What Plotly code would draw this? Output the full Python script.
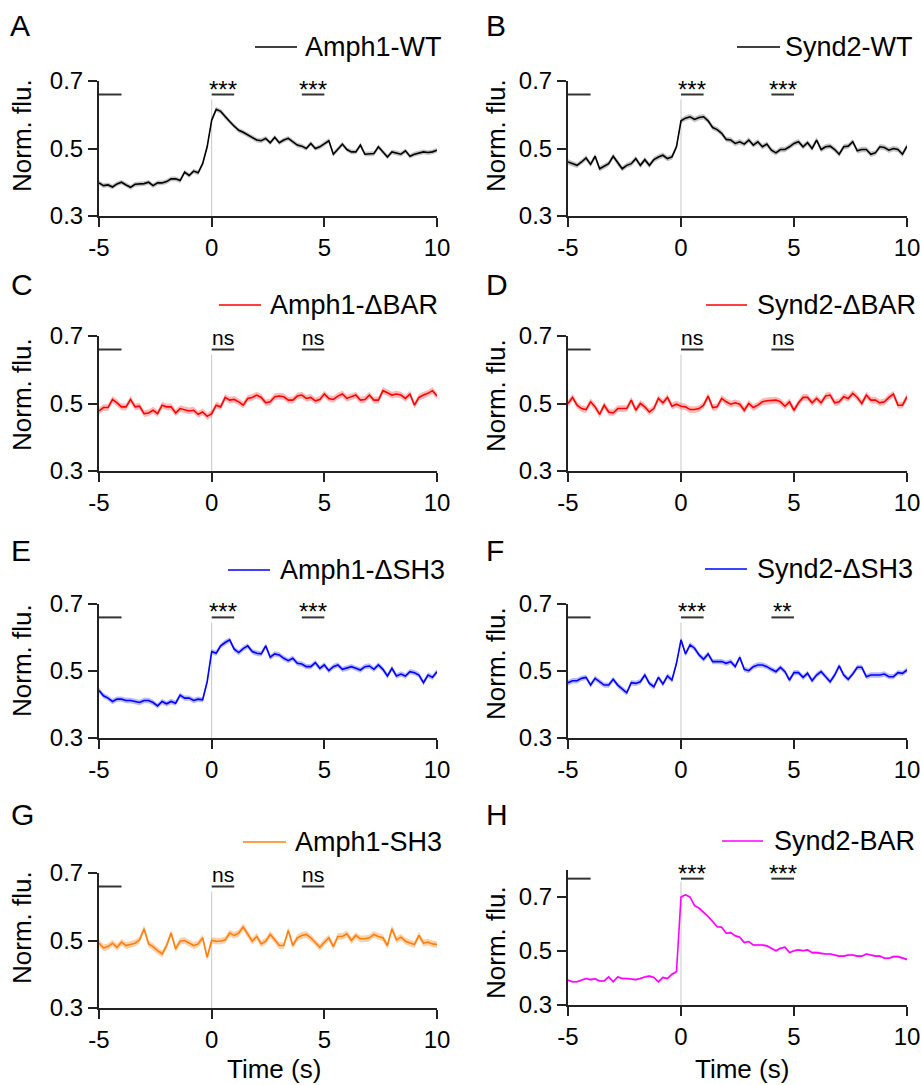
import numpy as np
import plotly.graph_objects as go

# time axis (s), sampled every 0.2 s
time_s = np.round(np.arange(-5, 10.001, 0.2), 1)

panel_letters = ['A', 'B', 'C', 'D', 'E', 'F', 'G', 'H']
construct_names = ['Amph1-WT', 'Synd2-WT', 'Amph1-ΔBAR', 'Synd2-ΔBAR',
                   'Amph1-ΔSH3', 'Synd2-ΔSH3', 'Amph1-SH3', 'Synd2-BAR']

# mean normalized fluorescence
amph1_wt = [0.398, 0.390, 0.392, 0.386, 0.395, 0.400, 0.392, 0.385, 0.394, 0.395,
            0.396, 0.400, 0.390, 0.398, 0.398, 0.402, 0.410, 0.410, 0.405, 0.430,
            0.420, 0.433, 0.428, 0.455, 0.505, 0.584, 0.616, 0.610, 0.594, 0.580,
            0.566, 0.554, 0.548, 0.540, 0.533, 0.525, 0.523, 0.530, 0.517, 0.533,
            0.517, 0.525, 0.530, 0.520, 0.510, 0.507, 0.500, 0.515, 0.500, 0.505,
            0.513, 0.523, 0.483, 0.497, 0.513, 0.497, 0.490, 0.490, 0.510, 0.483,
            0.485, 0.485, 0.505, 0.490, 0.475, 0.490, 0.487, 0.483, 0.493, 0.477,
            0.483, 0.487, 0.490, 0.488, 0.490, 0.495]
synd2_wt = [0.460, 0.455, 0.450, 0.460, 0.472, 0.453, 0.477, 0.440, 0.448, 0.455,
            0.477, 0.457, 0.440, 0.450, 0.455, 0.470, 0.450, 0.467, 0.450, 0.467,
            0.475, 0.480, 0.470, 0.475, 0.505, 0.582, 0.590, 0.594, 0.586, 0.592,
            0.594, 0.582, 0.562, 0.556, 0.545, 0.527, 0.525, 0.515, 0.520, 0.513,
            0.525, 0.510, 0.520, 0.505, 0.513, 0.495, 0.487, 0.497, 0.497, 0.505,
            0.515, 0.520, 0.505, 0.517, 0.500, 0.525, 0.497, 0.505, 0.507, 0.497,
            0.483, 0.505, 0.507, 0.520, 0.493, 0.497, 0.497, 0.483, 0.487, 0.505,
            0.503, 0.495, 0.500, 0.497, 0.483, 0.507]
amph1_dbar = [0.478, 0.488, 0.488, 0.512, 0.502, 0.490, 0.490, 0.512, 0.490, 0.492,
              0.470, 0.472, 0.480, 0.470, 0.495, 0.490, 0.490, 0.472, 0.485, 0.482,
              0.478, 0.480, 0.468, 0.475, 0.462, 0.470, 0.495, 0.490, 0.518, 0.510,
              0.512, 0.505, 0.495, 0.515, 0.518, 0.525, 0.518, 0.502, 0.505, 0.520,
              0.522, 0.520, 0.510, 0.510, 0.522, 0.525, 0.515, 0.518, 0.508, 0.512,
              0.528, 0.515, 0.512, 0.522, 0.528, 0.515, 0.520, 0.525, 0.510, 0.512,
              0.525, 0.510, 0.510, 0.538, 0.532, 0.525, 0.528, 0.525, 0.515, 0.528,
              0.495, 0.518, 0.525, 0.530, 0.538, 0.522]
synd2_dbar = [0.500, 0.518, 0.495, 0.485, 0.482, 0.505, 0.490, 0.468, 0.495, 0.475,
              0.472, 0.485, 0.485, 0.485, 0.510, 0.480, 0.500, 0.490, 0.475, 0.485,
              0.515, 0.502, 0.518, 0.492, 0.498, 0.492, 0.490, 0.482, 0.482, 0.485,
              0.495, 0.522, 0.488, 0.490, 0.515, 0.505, 0.498, 0.502, 0.498, 0.480,
              0.500, 0.488, 0.495, 0.505, 0.508, 0.508, 0.510, 0.505, 0.492, 0.505,
              0.480, 0.502, 0.518, 0.518, 0.502, 0.515, 0.502, 0.522, 0.525, 0.502,
              0.505, 0.520, 0.515, 0.530, 0.518, 0.500, 0.525, 0.510, 0.510, 0.502,
              0.505, 0.518, 0.528, 0.495, 0.495, 0.520]
amph1_dsh3 = [0.442, 0.426, 0.419, 0.409, 0.416, 0.416, 0.412, 0.412, 0.409, 0.406,
              0.412, 0.412, 0.406, 0.396, 0.409, 0.402, 0.409, 0.404, 0.428, 0.419,
              0.419, 0.412, 0.416, 0.414, 0.468, 0.558, 0.553, 0.575, 0.585, 0.593,
              0.565, 0.555, 0.567, 0.575, 0.558, 0.553, 0.551, 0.575, 0.541, 0.551,
              0.548, 0.538, 0.531, 0.538, 0.523, 0.521, 0.513, 0.513, 0.525, 0.508,
              0.518, 0.501, 0.513, 0.518, 0.505, 0.508, 0.513, 0.508, 0.503, 0.513,
              0.515, 0.505, 0.518, 0.505, 0.485, 0.508, 0.485, 0.491, 0.485, 0.498,
              0.495, 0.488, 0.465, 0.488, 0.481, 0.498]
synd2_dsh3 = [0.465, 0.471, 0.471, 0.478, 0.481, 0.458, 0.478, 0.468, 0.458, 0.458,
              0.475, 0.458, 0.445, 0.435, 0.465, 0.463, 0.468, 0.488, 0.463, 0.453,
              0.481, 0.461, 0.485, 0.473, 0.523, 0.593, 0.551, 0.578, 0.568, 0.548,
              0.535, 0.551, 0.528, 0.528, 0.528, 0.523, 0.528, 0.513, 0.541, 0.505,
              0.501, 0.513, 0.518, 0.518, 0.513, 0.505, 0.498, 0.511, 0.498, 0.473,
              0.495, 0.495, 0.481, 0.493, 0.471, 0.488, 0.498, 0.483, 0.468, 0.488,
              0.515, 0.488, 0.475, 0.491, 0.511, 0.511, 0.483, 0.488, 0.488, 0.488,
              0.491, 0.483, 0.483, 0.495, 0.493, 0.503]
amph1_sh3 = [0.492, 0.478, 0.482, 0.492, 0.480, 0.495, 0.485, 0.488, 0.492, 0.502,
             0.535, 0.490, 0.482, 0.470, 0.460, 0.485, 0.522, 0.475, 0.498, 0.500,
             0.492, 0.485, 0.490, 0.508, 0.450, 0.500, 0.498, 0.498, 0.502, 0.522,
             0.515, 0.522, 0.540, 0.518, 0.498, 0.512, 0.490, 0.498, 0.518, 0.502,
             0.485, 0.485, 0.530, 0.485, 0.508, 0.515, 0.518, 0.508, 0.495, 0.480,
             0.495, 0.508, 0.482, 0.512, 0.512, 0.520, 0.500, 0.515, 0.505, 0.505,
             0.508, 0.518, 0.512, 0.508, 0.485, 0.535, 0.502, 0.510, 0.498, 0.492,
             0.488, 0.515, 0.492, 0.495, 0.490, 0.488]
synd2_bar = [0.392, 0.386, 0.386, 0.392, 0.398, 0.394, 0.397, 0.389, 0.389, 0.404,
             0.386, 0.404, 0.398, 0.398, 0.397, 0.394, 0.398, 0.404, 0.407, 0.402,
             0.386, 0.402, 0.398, 0.414, 0.423, 0.700, 0.708, 0.700, 0.668, 0.659,
             0.643, 0.628, 0.609, 0.590, 0.588, 0.566, 0.568, 0.556, 0.551, 0.531,
             0.535, 0.522, 0.522, 0.522, 0.519, 0.510, 0.501, 0.510, 0.514, 0.494,
             0.501, 0.504, 0.501, 0.504, 0.494, 0.494, 0.491, 0.489, 0.489, 0.485,
             0.481, 0.481, 0.485, 0.485, 0.481, 0.481, 0.489, 0.485, 0.481, 0.481,
             0.473, 0.473, 0.479, 0.479, 0.473, 0.469]

# approximate SEM (half width of the shaded band) per panel
sem_values = [0.007, 0.008, 0.010, 0.010, 0.008, 0.008, 0.010, 0.004]

# significance labels for the 0-1 s and 4-5 s windows
sig_first = ['***', '***', 'ns', 'ns', '***', '***', 'ns', '***']
sig_second = ['***', '***', 'ns', 'ns', '***', '**', 'ns', '***']
sig_windows = [(0, 1), (4, 5)]

means = [amph1_wt, synd2_wt, amph1_dbar, synd2_dbar,
         amph1_dsh3, synd2_dsh3, amph1_sh3, synd2_bar]
line_colors = ['black', 'black', '#ff0000', '#ff0000',
               '#0000ff', '#0000ff', '#ff7f0e', '#ff00ff']
band_colors = ['rgba(120,120,120,0.45)', 'rgba(120,120,120,0.45)',
               'rgba(255,0,0,0.28)', 'rgba(255,0,0,0.28)',
               'rgba(0,0,255,0.28)', 'rgba(0,0,255,0.28)',
               'rgba(255,127,14,0.35)', 'rgba(255,0,255,0.3)']

W, H = 921, 1085


def px(x):
    return x / W


def py(y):
    return 1 - y / H


# plot rectangles in window pixels: left, right, top, bottom
rects = [(99, 437, 81, 216), (568, 907, 81, 216),
         (99, 437, 336, 471), (568, 907, 336, 471),
         (99, 437, 604, 738), (568, 907, 604, 738),
         (99, 437, 873, 1008), (568, 907, 870, 1005)]
y_ranges = [[0.3, 0.7]] * 7 + [[0.3, 0.8]]
bar_level = [0.66] * 7 + [0.768]
zero_top = [0.645] * 7 + [0.757]

# legend line (x0, x1, y) and text start x, in window pixels
legend_pos = [(255, 297, 47, 303), (737, 780, 47, 783),
              (219, 261, 305, 268), (706, 747, 305, 755),
              (228, 270, 570, 278), (705, 747, 569, 755),
              (243, 286, 842, 293), (722, 763, 841, 772)]
letter_pos = [(8, 25), (484, 25), (9, 285), (484, 285),
              (9, 550), (484, 550), (9, 814), (484, 814)]
ytitle_pos = [(22, 136), (496, 136), (22, 395), (496, 396),
              (22, 661), (496, 664), (22, 928), (496, 943)]

fig = go.Figure()
shapes = []
annotations = []
font_name = 'Liberation Sans, Arial, sans-serif'

for i in range(8):
    n = str(i + 1)
    xa = 'x' + n if i else 'x'
    ya = 'y' + n if i else 'y'
    mean = np.array(means[i])
    sem = sem_values[i]

    fig.add_trace(go.Scatter(
        x=np.concatenate([time_s, time_s[::-1]]),
        y=np.concatenate([mean + sem, (mean - sem)[::-1]]),
        fill='toself', fillcolor=band_colors[i], line=dict(width=0),
        mode='lines', hoverinfo='skip', showlegend=False, xaxis=xa, yaxis=ya))
    fig.add_trace(go.Scatter(
        x=time_s, y=mean, mode='lines', name=construct_names[i],
        line=dict(color=line_colors[i], width=1.6),
        showlegend=False, xaxis=xa, yaxis=ya))

    l, r, t, b = rects[i]
    fig.layout['xaxis' + (n if i else '')] = dict(
        domain=[px(l), px(r)], anchor=ya, range=[-5, 10], automargin=False,
        tickvals=[-5, 0, 5, 10], ticktext=['-5', '0', '5', '10'],
        showline=True, linecolor='#222', linewidth=2, ticks='outside',
        ticklen=9, tickwidth=2, tickcolor='#222', showgrid=False, zeroline=False,
        tickfont=dict(size=24, color='black', family=font_name))
    fig.layout['yaxis' + (n if i else '')] = dict(
        domain=[py(b), py(t)], anchor=xa, range=y_ranges[i], automargin=False,
        tickvals=[0.3, 0.5, 0.7], ticktext=['0.3', '0.5', '0.7'],
        showline=True, linecolor='#222', linewidth=2, ticks='outside',
        ticklen=9, tickwidth=2, tickcolor='#222', showgrid=False, zeroline=False,
        tickfont=dict(size=24, color='black', family=font_name))

    # stimulus onset line
    shapes.append(dict(type='line', xref=xa, yref=ya, x0=0, x1=0,
                       y0=y_ranges[i][0], y1=zero_top[i], layer='below',
                       line=dict(color='#c8c8c8', width=1)))
    # baseline window bar
    shapes.append(dict(type='line', xref=xa, yref=ya, x0=-5, x1=-4,
                       y0=bar_level[i], y1=bar_level[i],
                       line=dict(color='#333', width=2)))
    for (w0, w1), lab in zip(sig_windows, [sig_first[i], sig_second[i]]):
        shapes.append(dict(type='line', xref=xa, yref=ya, x0=w0, x1=w1,
                           y0=bar_level[i], y1=bar_level[i],
                           line=dict(color='#333', width=2)))
        star = lab.startswith('*')
        annotations.append(dict(
            x=(w0 + w1) / 2, y=bar_level[i], xref=xa, yref=ya,
            text=lab, showarrow=False, yanchor='bottom',
            yshift=-10 if star else -1,
            font=dict(size=24 if star else 21, color='black', family=font_name)))

    # legend
    lx0, lx1, ly, tx = legend_pos[i]
    shapes.append(dict(type='line', xref='paper', yref='paper',
                       x0=px(lx0), x1=px(lx1), y0=py(ly), y1=py(ly),
                       line=dict(color=line_colors[i], width=1.6)))
    annotations.append(dict(
        x=px(tx), y=py(ly), xref='paper', yref='paper', text=construct_names[i],
        showarrow=False, xanchor='left', yanchor='middle',
        font=dict(size=27, color='black', family=font_name)))

    # panel letter
    lx, lyy = letter_pos[i]
    annotations.append(dict(
        x=px(lx), y=py(lyy), xref='paper', yref='paper', text=panel_letters[i],
        showarrow=False, xanchor='left', yanchor='middle',
        font=dict(size=30, color='black', family=font_name)))

    # y axis title
    tx2, ty2 = ytitle_pos[i]
    annotations.append(dict(
        x=px(tx2), y=py(ty2), xref='paper', yref='paper', text='Norm. flu.',
        showarrow=False, textangle=-90, xanchor='center', yanchor='middle',
        font=dict(size=26, color='black', family=font_name)))

# x axis titles on the bottom row
for cx in [274, 742]:
    annotations.append(dict(
        x=px(cx), y=py(1069), xref='paper', yref='paper', text='Time (s)',
        showarrow=False, xanchor='center', yanchor='middle',
        font=dict(size=26, color='black', family=font_name)))

fig.update_layout(
    width=W, height=H, margin=dict(l=0, r=0, t=0, b=0),
    paper_bgcolor='white', plot_bgcolor='white',
    shapes=shapes, annotations=annotations, showlegend=False,
    font=dict(family=font_name, color='black'))

# drop the default 8 px page margin so the figure fills the window exactly
fig.write_html("out.html", config={'displayModeBar': False},
               post_script="document.body.style.margin='0';"
                           "document.body.style.overflow='hidden';")
